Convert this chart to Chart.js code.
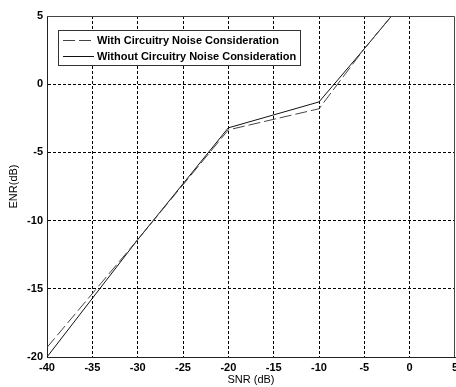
<!DOCTYPE html>
<html>
<head>
<meta charset="utf-8">
<script src="https://cdn.jsdelivr.net/npm/chart.js@4/dist/chart.umd.min.js"></script>
<style>
  html, body { margin: 0; padding: 0; background: #fff; }
  #wrap { width: 456px; height: 387px; }
</style>
</head>
<body>
<div id="wrap"><canvas id="grafico" width="456" height="387"></canvas></div>
<script>
// Datos
const snr = [-40, -30, -20, -10, -5, 0];
const enrWithout = [-20, -11.4, -3.2, -1.3, 2.6, 6.6];
const enrWith = [-19.3, -11.4, -3.35, -1.8, 2.6, 6.6];
const seriesLabels = ['With Circuitry Noise Consideration', 'Without Circuitry Noise Consideration'];
const xTicks = [-40, -35, -30, -25, -20, -15, -10, -5, 0, 5];
const yTicks = [-20, -15, -10, -5, 0, 5];

const FONT = 'Liberation Sans, Arial, sans-serif';

// Caja superior/derecha + leyenda estilo Matlab
const boxPlugin = {
  id: 'boxLegend',
  afterDraw(chart) {
    const { ctx, chartArea: a } = chart;
    ctx.save();
    ctx.strokeStyle = '#444';
    ctx.lineWidth = 1;
    ctx.beginPath();
    ctx.moveTo(a.left, a.top + 0.5);
    ctx.lineTo(a.right - 0.5, a.top + 0.5);
    ctx.lineTo(a.right - 0.5, a.bottom);
    ctx.stroke();

    // leyenda
    const lx = 58, ly = 30, lw = 242, lh = 35;
    ctx.fillStyle = '#fff';
    ctx.fillRect(lx, ly, lw, lh);
    ctx.strokeStyle = '#333';
    ctx.strokeRect(lx + 0.5, ly + 0.5, lw, lh);
    ctx.font = 'bold 11px ' + FONT;
    ctx.textBaseline = 'middle';
    ctx.fillStyle = '#000';
    chart.data.datasets.forEach((ds, i) => {
      const y = ly + 10 + i * 16 + 0.5;
      ctx.strokeStyle = ds.borderColor;
      ctx.setLineDash(ds.borderDash || []);
      ctx.beginPath();
      ctx.moveTo(lx + 5, y);
      ctx.lineTo(lx + 36, y);
      ctx.stroke();
      ctx.setLineDash([]);
      ctx.fillText(ds.label, lx + 39, y);
    });
    ctx.restore();
  }
};

const gridColor = (ctx, ends) => (ends.includes(ctx.tick && ctx.tick.value) ? 'rgba(0,0,0,0)' : '#000');

new Chart(document.getElementById('grafico'), {
  type: 'line',
  data: {
    datasets: [{
      label: seriesLabels[0],
      data: snr.map((x, i) => ({ x, y: enrWith[i] })),
      borderColor: '#444',
      borderWidth: 1,
      borderDash: [12, 4],
      pointRadius: 0,
      tension: 0
    }, {
      label: seriesLabels[1],
      data: snr.map((x, i) => ({ x, y: enrWithout[i] })),
      borderColor: '#111',
      borderWidth: 1,
      pointRadius: 0,
      tension: 0
    }]
  },
  options: {
    responsive: false,
    animation: false,
    layout: { padding: { top: 16, right: 1, left: 0, bottom: 0 } },
    plugins: { legend: { display: false }, tooltip: { enabled: false } },
    scales: {
      x: {
        type: 'linear',
        min: -40, max: 5,
        afterBuildTicks: s => { s.ticks = xTicks.map(v => ({ value: v })); },
        afterFit: s => { s.height = 30; s.paddingRight = 0; s.paddingLeft = 0; },
        grid: { color: c => gridColor(c, [-40, 5]), drawTicks: false, lineWidth: 1 },
        border: { color: '#222', width: 1, dash: [3, 2] },
        ticks: { color: '#000', padding: 4, font: { family: FONT, size: 11, weight: 'bold' }, maxRotation: 0 },
        title: { display: true, text: 'SNR (dB)', color: '#000', padding: 0, font: { family: FONT, size: 11 } }
      },
      y: {
        type: 'linear',
        min: -20, max: 5,
        afterBuildTicks: s => { s.ticks = yTicks.map(v => ({ value: v })); },
        afterFit: s => { s.width = 47; s.paddingTop = 0; s.paddingBottom = 0; },
        grid: { color: c => gridColor(c, [-20, 5]), drawTicks: false, lineWidth: 1 },
        border: { color: '#222', width: 1, dash: [3, 2] },
        ticks: { color: '#000', padding: 4, font: { family: FONT, size: 11, weight: 'bold' } },
        title: { display: true, text: 'ENR(dB)', color: '#000', padding: { top: 7, bottom: 0 }, font: { family: FONT, size: 11 } }
      }
    }
  },
  plugins: [boxPlugin]
});
</script>
</body>
</html>
